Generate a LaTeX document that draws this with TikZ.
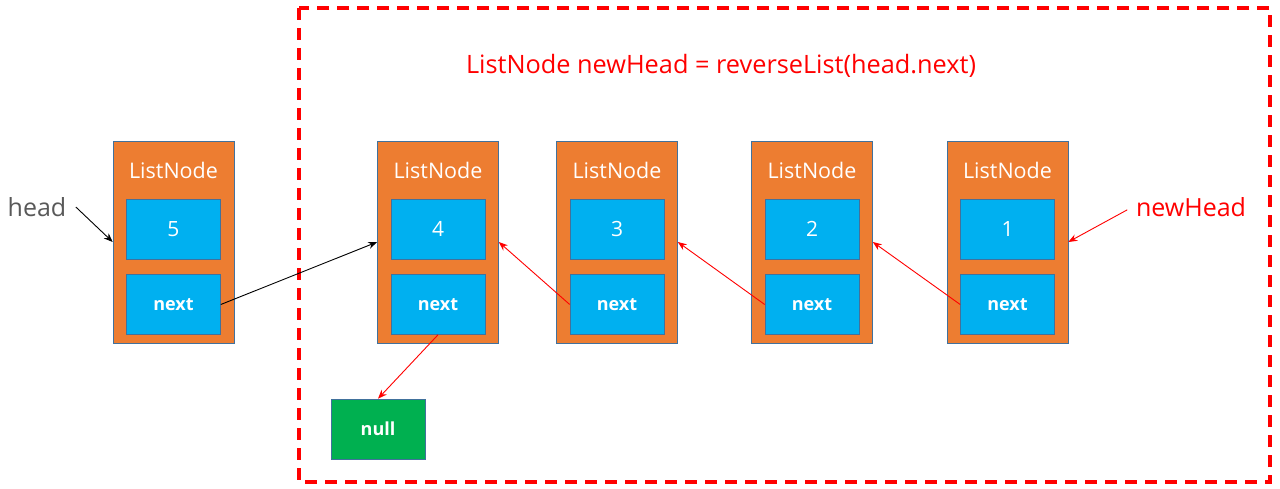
\documentclass[tikz,border=0pt]{standalone}
\usepackage{fontspec}
\setmainfont{Open Sans}
\usetikzlibrary{arrows.meta,positioning}
\definecolor{nodeorange}{RGB}{237,125,49}
\definecolor{fieldblue}{RGB}{0,176,240}
\definecolor{nullgreen}{RGB}{0,176,80}
\definecolor{boxedge}{RGB}{65,113,156}
\definecolor{labelgray}{RGB}{89,89,89}
\tikzset{
  lnode/.style ={rectangle, draw=boxedge, fill=nodeorange, line width=0.6pt,
                 minimum width=121pt, minimum height=202pt, inner sep=0pt},
  lfield/.style={rectangle, draw=boxedge, fill=fieldblue, line width=0.6pt,
                 minimum width=94pt, minimum height=60pt, inner sep=0pt,
                 text=white, font=\fontsize{21}{24}\selectfont},
  lnext/.style ={lfield, font=\fontsize{18}{21}\selectfont\bfseries},
  lname/.style ={text=white, font=\fontsize{21.5}{25}\selectfont, inner sep=0pt},
  lnull/.style ={lnext, fill=nullgreen},
  ptr/.style   ={-{Stealth[length=9pt,width=7pt]}, line width=0.9pt, black},
  rptr/.style  ={ptr, red},
  frame/.style ={draw=red, line width=3.5pt, dash pattern=on 12pt off 8pt},
}
\begin{document}
\begin{tikzpicture}[x=1pt, y=-1pt]
  \useasboundingbox (0,0) rectangle (1280,489);
  % recursive part
  \draw[frame] (299,8) rectangle (1270,482);
  \node[red, font=\fontsize{25.3}{29}\selectfont] (call) at (721,66)
    {ListNode newHead = reverseList(head.next)};
  % list nodes
  \foreach \v/\cx in {5/173.5, 4/438, 3/617, 2/812, 1/1007.5} {
    \node[lnode] (n\v) at (\cx,242) {};
    \node[lname] (t\v) at (\cx,170) {ListNode};
    \node[lfield] (v\v) at (\cx,229) {\v};
    \node[lnext] (x\v) at (\cx,304.5) {next};
  }
  \node[lnull] (null) at (378,429) {null};
  % labels
  \node[labelgray, font=\fontsize{25}{29}\selectfont] (head) at (37,207) {head};
  \node[red, font=\fontsize{25}{29}\selectfont] (newhead) at (1191,207) {newHead};
  % pointers
  \draw[ptr] (head.east) ++(6,0) -- (n5.west);
  \draw[ptr] (x5.east) -- (n4.west);
  \draw[rptr] (x4.south) -- (null.north);
  \draw[rptr] (x3.west) -- (n4.east);
  \draw[rptr] (x2.west) -- (n3.east);
  \draw[rptr] (x1.west) -- (n2.east);
  \draw[rptr, shorten <=6pt] (newhead.west) -- (n1.east);
\end{tikzpicture}
\end{document}
